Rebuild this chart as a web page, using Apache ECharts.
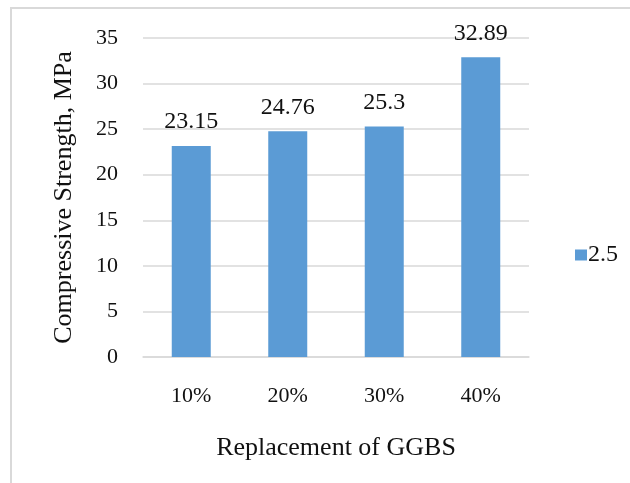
<!DOCTYPE html>
<html>
<head>
<meta charset="utf-8">
<style>
  html, body { margin: 0; padding: 0; background: #ffffff; }
  #chart { width: 630px; height: 483px; }
</style>
<script src="https://cdn.jsdelivr.net/npm/echarts@6/dist/echarts.min.js"></script>
</head>
<body>
<div id="chart"></div>
<script>
// GGBS replacement levels and measured compressive strength
const categories = ['10%', '20%', '30%', '40%'];
const strength = [23.15, 24.76, 25.3, 32.89];
const seriesName = '2.5';
const yTicks = { min: 0, max: 35, interval: 5 };

const FONT = '"Liberation Serif", "Times New Roman", serif';
const TEXT = '#111111';

const chart = echarts.init(document.getElementById('chart'), null, { renderer: 'canvas' });

chart.setOption({
  animation: false,
  backgroundColor: '#ffffff',
  textStyle: { fontFamily: FONT, color: TEXT },
  graphic: [{
    type: 'rect',
    shape: { x: 11, y: 8, width: 700, height: 600 },
    style: { fill: 'none', stroke: '#d9d9d9', lineWidth: 2 },
    silent: true
  }],
  grid: { left: 143, right: 101, top: 38, bottom: 126 },
  legend: {
    data: [seriesName],
    orient: 'vertical',
    left: 570,
    top: 238,
    itemWidth: 12,
    itemHeight: 11,
    itemGap: 5,
    icon: 'rect',
    textStyle: { fontFamily: FONT, fontSize: 24, color: TEXT, padding: [0, 0, 0, -4] }
  },
  xAxis: {
    type: 'category',
    data: categories,
    name: 'Replacement of GGBS',
    nameLocation: 'middle',
    nameGap: 78,
    nameTextStyle: { fontFamily: FONT, fontSize: 26, color: TEXT },
    axisLine: { show: true, lineStyle: { color: '#d9d9d9', width: 1.5 } },
    axisTick: { show: false },
    axisLabel: { fontFamily: FONT, fontSize: 22, color: TEXT, margin: 28 }
  },
  yAxis: {
    type: 'value',
    min: yTicks.min,
    max: yTicks.max,
    interval: yTicks.interval,
    name: 'Compressive Strength, MPa',
    nameLocation: 'middle',
    nameGap: 66,
    nameTextStyle: { fontFamily: FONT, fontSize: 26, color: TEXT },
    axisLine: { show: false },
    axisTick: { show: false },
    axisLabel: { fontFamily: FONT, fontSize: 22, color: TEXT, margin: 25 },
    splitLine: { lineStyle: { color: '#d9d9d9', width: 1.5 } }
  },
  series: [{
    name: seriesName,
    type: 'bar',
    data: strength,
    barWidth: 39,
    itemStyle: { color: '#5b9bd5' },
    label: {
      show: true,
      position: 'top',
      distance: 12,
      fontFamily: FONT,
      fontSize: 24,
      color: TEXT
    }
  }]
});
</script>
</body>
</html>
